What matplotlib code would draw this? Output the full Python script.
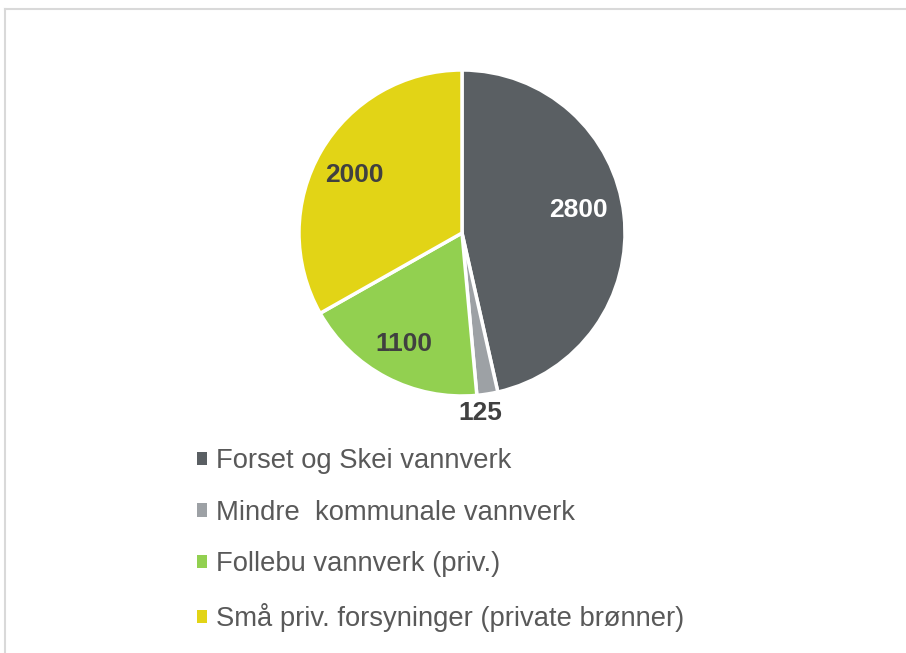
import numpy as np
import matplotlib
matplotlib.use('Agg')
import matplotlib.pyplot as plt
from matplotlib.lines import Line2D
from matplotlib.patches import Rectangle

plt.rcParams['font.family'] = ['Liberation Sans', 'DejaVu Sans']

# data
categories = ['Forset og Skei vannverk', 'Mindre  kommunale vannverk',
              'Follebu vannverk (priv.)', 'Små priv. forsyninger (private brønner)']
values = [2800, 125, 1100, 2000]
colors = ['#5a5f63', '#9da1a5', '#92d050', '#e2d416']
label_colors = ['white', '#404040', '#404040', '#404040']
label_dist = [0.73, 1.11, 0.77, 0.75]
label_shift = [5, -3, 0, 2]   # degrees, nudges to match excel placement

W, H = 906, 653
fig = plt.figure(figsize=(W / 100, H / 100), dpi=100)

# outer frame (light gray)
fig.add_artist(Line2D([5 / W, 1], [1 - 9 / H, 1 - 9 / H], color='#d9d9d9', lw=1.5))
fig.add_artist(Line2D([5 / W, 5 / W], [0, 1 - 9 / H], color='#d9d9d9', lw=1.5))

# pie axes: centre (462,233), radius 163 px
cx, cy, r = 462, 233, 163
ax = fig.add_axes([(cx - r) / W, 1 - (cy + r) / H, 2 * r / W, 2 * r / H])
wedges, _ = ax.pie(values, colors=colors, startangle=90, counterclock=False,
                   wedgeprops=dict(edgecolor='white', linewidth=2.5))
ax.set_xlim(-1, 1)
ax.set_ylim(-1, 1)
ax.set_aspect('equal')
ax.axis('off')

for w, v, c, d, s in zip(wedges, values, label_colors, label_dist, label_shift):
    ang = np.deg2rad((w.theta1 + w.theta2) / 2 + s)
    ax.text(d * np.cos(ang), d * np.sin(ang), str(v), ha='center', va='center',
            fontsize=19, fontweight='bold', color=c)

# legend
handles = [Rectangle((0, 0), 1, 1, facecolor=c, edgecolor='none') for c in colors]
leg = fig.legend(handles, categories, loc='upper left',
                 bbox_to_anchor=(197 / W, 1 - 448 / H), frameon=False, borderpad=0,
                 borderaxespad=0, fontsize=19.7, labelspacing=0.94,
                 handlelength=0.37, handleheight=0.37,
                 handletextpad=0.33, labelcolor='#595959')

fig.savefig('out.png', dpi=100)
